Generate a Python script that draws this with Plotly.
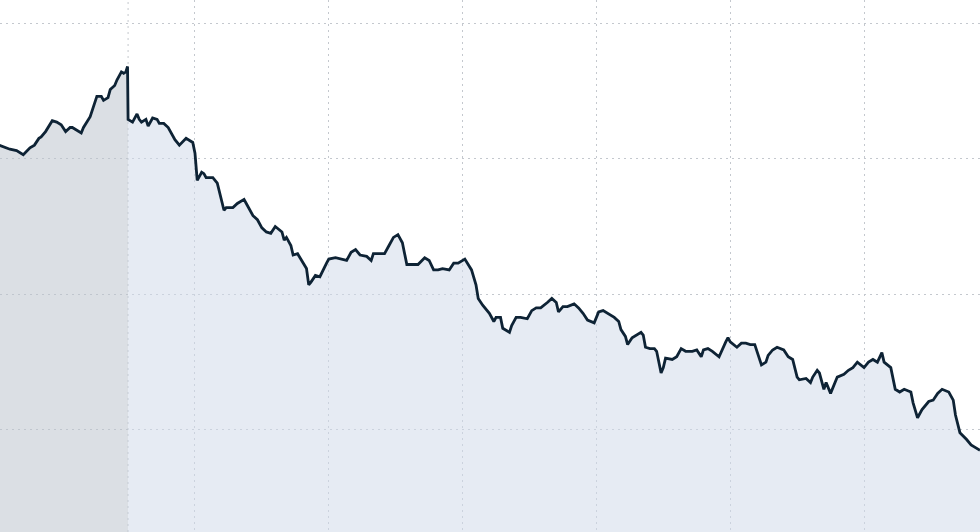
import pandas as pd
import plotly.graph_objects as go

DAY = "2024-03-15"

times = [
    "08:32", "08:37", "08:40", "08:43", "08:46", "08:48", "08:50", "08:51", "08:53", "08:56",
    "08:58", "09:00", "09:02", "09:04", "09:05", "09:07", "09:09", "09:10", "09:12", "09:13",
    "09:15", "09:16", "09:18", "09:19", "09:21", "09:22", "09:24", "09:25", "09:27", "09:28",
    "09:29", "09:29:45", "09:30", "09:32", "09:34", "09:35", "09:36", "09:38", "09:39", "09:41",
    "09:43", "09:44", "09:46", "09:48", "09:51", "09:53", "09:56", "09:59", "10:00", "10:01",
    "10:03", "10:04", "10:05", "10:08", "10:10", "10:12", "10:13", "10:14", "10:17", "10:19",
    "10:22", "10:23", "10:26", "10:28", "10:30", "10:32", "10:34", "10:36", "10:39", "10:40",
    "10:41", "10:43", "10:44", "10:46", "10:48", "10:50", "10:51", "10:52", "10:54", "10:56",
    "10:59", "11:00", "11:03", "11:05", "11:08", "11:10", "11:12", "11:14", "11:17", "11:19",
    "11:20", "11:22", "11:25", "11:27", "11:29", "11:31", "11:33", "11:34", "11:35", "11:38",
    "11:40", "11:43", "11:45", "11:47", "11:49", "11:51", "11:54", "11:56", "11:58", "12:01",
    "12:04", "12:06", "12:07", "12:09", "12:12", "12:14", "12:15", "12:17", "12:18", "12:21",
    "12:22", "12:24", "12:26", "12:29", "12:31", "12:33", "12:35", "12:38", "12:40", "12:42",
    "12:43", "12:45", "12:47", "12:50", "12:52", "12:54", "12:56", "12:59", "13:01", "13:03",
    "13:05", "13:08", "13:10", "13:11", "13:13", "13:14", "13:16", "13:17", "13:20", "13:21",
    "13:22", "13:24", "13:26", "13:27", "13:29", "13:30", "13:31", "13:34", "13:36", "13:38",
    "13:40", "13:43", "13:45", "13:47", "13:48", "13:50", "13:52", "13:55", "13:56", "13:58",
    "13:59", "14:00", "14:03", "14:05", "14:07", "14:09", "14:11", "14:13", "14:14", "14:16",
    "14:17", "14:19", "14:21", "14:24", "14:26", "14:28", "14:30", "14:31", "14:34", "14:36",
    "14:37", "14:39", "14:40", "14:42", "14:43", "14:45", "14:47", "14:48", "14:51", "14:53",
    "14:55", "14:57", "15:00", "15:02", "15:04", "15:06", "15:08", "15:09", "15:12", "15:14",
    "15:16", "15:18", "15:21", "15:22", "15:24", "15:26", "15:29", "15:31", "15:33", "15:35",
    "15:38", "15:40", "15:41", "15:43", "15:46", "15:48", "15:50", "15:52",
]

prices = [
    33.10, 33.07, 33.06, 33.03, 33.08, 33.10, 33.15, 33.16, 33.20, 33.28,
    33.27, 33.25, 33.20, 33.23, 33.23, 33.21, 33.19, 33.23, 33.29, 33.31,
    33.41, 33.46, 33.46, 33.43, 33.45, 33.51, 33.54, 33.58, 33.64, 33.63,
    33.64, 33.68, 33.29, 33.27, 33.33, 33.29, 33.27, 33.29, 33.24, 33.30,
    33.29, 33.26, 33.26, 33.23, 33.14, 33.10, 33.15, 33.12, 33.04, 32.84,
    32.90, 32.89, 32.86, 32.86, 32.82, 32.70, 32.62, 32.64, 32.64, 32.67,
    32.70, 32.67, 32.58, 32.55, 32.49, 32.46, 32.45, 32.50, 32.46, 32.40,
    32.42, 32.36, 32.29, 32.30, 32.24, 32.19, 32.07, 32.09, 32.14, 32.13,
    32.23, 32.26, 32.27, 32.26, 32.25, 32.31, 32.33, 32.29, 32.28, 32.25,
    32.30, 32.30, 32.30, 32.36, 32.42, 32.44, 32.38, 32.30, 32.22, 32.22,
    32.22, 32.27, 32.25, 32.18, 32.18, 32.19, 32.18, 32.23, 32.23, 32.26,
    32.18, 32.07, 31.97, 31.92, 31.86, 31.80, 31.83, 31.83, 31.75, 31.72,
    31.77, 31.83, 31.83, 31.82, 31.88, 31.90, 31.90, 31.94, 31.97, 31.94,
    31.87, 31.91, 31.91, 31.93, 31.90, 31.86, 31.81, 31.79, 31.87, 31.88,
    31.86, 31.83, 31.80, 31.74, 31.69, 31.63, 31.68, 31.69, 31.72, 31.70,
    31.61, 31.60, 31.60, 31.58, 31.42, 31.46, 31.53, 31.52, 31.54, 31.60,
    31.58, 31.58, 31.59, 31.54, 31.59, 31.60, 31.58, 31.54, 31.58, 31.65,
    31.68, 31.65, 31.61, 31.64, 31.64, 31.63, 31.63, 31.52, 31.48, 31.50,
    31.55, 31.59, 31.61, 31.59, 31.54, 31.52, 31.39, 31.37, 31.38, 31.35,
    31.39, 31.44, 31.42, 31.30, 31.35, 31.27, 31.35, 31.39, 31.41, 31.44,
    31.46, 31.50, 31.46, 31.50, 31.52, 31.50, 31.57, 31.50, 31.46, 31.30,
    31.28, 31.30, 31.28, 31.20, 31.09, 31.15, 31.21, 31.22, 31.27, 31.30,
    31.28, 31.22, 31.11, 30.98, 30.93, 30.89, 30.87, 30.85,
]

price_gridlines = [31, 32, 33, 34]
hour_gridlines = ["10:00", "11:00", "12:00", "13:00", "14:00", "15:00"]
open_time = "09:30"
view_start = "08:32:34"
view_end = "15:52:00"
price_range = [30.248, 34.170]


def ts(t):
    return pd.to_datetime(f"{DAY} {t}", format="mixed")


x = pd.DatetimeIndex([ts(t) for t in times])
s = pd.Series(prices, index=x)
open_ts = ts(open_time)
pre = s[s.index <= open_ts]
reg = s[s.index >= open_ts]

LINE = "#0e2335"
GRID = "#c4c8ce"

fig = go.Figure()
fig.add_trace(go.Scatter(x=pre.index, y=pre.values, mode="lines", fill="tozeroy",
                         fillcolor="rgba(190,196,205,0.55)", line=dict(width=0),
                         hoverinfo="skip", showlegend=False))
fig.add_trace(go.Scatter(x=reg.index, y=reg.values, mode="lines", fill="tozeroy",
                         fillcolor="rgba(210,218,233,0.55)", line=dict(width=0),
                         hoverinfo="skip", showlegend=False))
fig.add_trace(go.Scatter(x=s.index, y=s.values, mode="lines",
                         line=dict(color=LINE, width=2.8, shape="linear"),
                         showlegend=False))

fig.add_shape(type="line", xref="x", yref="paper", x0=open_ts, x1=open_ts, y0=0, y1=1,
              line=dict(color=GRID, width=1, dash="2px,4px"), layer="below")

fig.update_layout(
    width=980, height=532,
    margin=dict(l=0, r=0, t=0, b=0),
    paper_bgcolor="white", plot_bgcolor="white",
    showlegend=False,
)
fig.update_xaxes(
    range=[ts(view_start), ts(view_end)],
    tickmode="array",
    tickvals=[ts(h) for h in hour_gridlines],
    showticklabels=False, ticks="",
    showgrid=True, gridcolor=GRID, gridwidth=1, griddash="2px,4px",
    zeroline=False, showline=False,
)
fig.update_yaxes(
    range=price_range,
    tickmode="array", tickvals=price_gridlines,
    showticklabels=False, ticks="",
    showgrid=True, gridcolor=GRID, gridwidth=1, griddash="2px,4px",
    zeroline=False, showline=False,
)

fig.write_html(
    "out.html",
    config={"displayModeBar": False},
    post_script="document.body.style.margin='0';document.body.style.overflow='hidden';",
)
